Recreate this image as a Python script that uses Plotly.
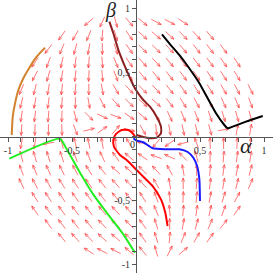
import math
import plotly.graph_objects as go

# ---- tick labels ----
x_tick_vals = [-1, -0.5, 0.5, 1]
x_tick_text = ["-1", "-0,5", "0,5", "1"]
y_tick_vals = [-1, -0.5, 0.5, 1]
y_tick_text = ["-1", "-0,5", "0,5", "1"]

# ---- direction field: arrow angles (degrees), one list per grid row (top to bottom), left to right ----
ang_r18 = [-140, -115, -75, -50, -40, -28, -27, -32]
ang_r17 = [-125, -120, -112, -95, -73, -55, -42, -40, -42, -46, -48, -50]
ang_r16 = [-128, -112, -105, -100, -90, -73, -55, -45, -45, -47, -50, -52, -53, -54]
ang_r15 = [-124, -110, -102, -98, -95, -85, -68, -55, -48, -47, -50, -52, -53, -54, -55, -56]
ang_r14 = [-118, -106, -100, -96, -93, -85, -70, -58, -50, -50, -52, -54, -55, -56, -57, -58]
ang_r13 = [-112, -104, -100, -97, -95, -90, -80, -60, -47, -45, -48, -52, -55, -57, -58, -60, -62, -64]
ang_r12 = [-104, -100, -98, -95, -90, -80, -62, -48, -45, -42, -42, -52, -58, -62, -64, -66, -68, -70]
ang_r11 = [-99, -97, -95, -92, -75, -45, -25, -20, -35, -40, -55, -65, -68, -70, -72, -73, -74, -75]
ang_r10 = [-93, -92, -90, -88, -70, 15, 35, 50, -15, -60, -85, -80, -78, -76, -75, 10, 80, 80]
ang_r9 = [260, 260, 190, 105, 104, 102, 100, 95, 120, 165, 230, 215, 195, 110, 92, 90, 88, 87]
ang_r8 = [105, 106, 107, 108, 110, 112, 115, 125, 140, 145, 160, 155, 135, 105, 88, 85, 83, 81]
ang_r7 = [110, 112, 114, 116, 118, 122, 128, 138, 138, 135, 132, 118, 100, 90, 85, 82, 80, 76]
ang_r6 = [116, 118, 120, 122, 123, 125, 128, 132, 135, 133, 120, 100, 90, 85, 83, 80, 76, 68]
ang_r5 = [122, 123, 124, 125, 126, 128, 130, 130, 122, 110, 95, 87, 84, 80, 74, 62]
ang_r4 = [124, 125, 126, 127, 128, 130, 133, 132, 125, 112, 95, 85, 82, 78, 70, 56]
ang_r3 = [126, 127, 128, 130, 133, 135, 135, 125, 107, 90, 80, 75, 68, 52]
ang_r2 = [130, 132, 134, 138, 140, 138, 125, 107, 85, 68, 60, 55]
ang_r1 = [148, 153, 152, 140, 130, 105, 65, 40]
field_rows = {18: ang_r18, 17: ang_r17, 16: ang_r16, 15: ang_r15, 14: ang_r14, 13: ang_r13,
              12: ang_r12, 11: ang_r11, 10: ang_r10, 9: ang_r9, 8: ang_r8, 7: ang_r7,
              6: ang_r6, 5: ang_r5, 4: ang_r4, 3: ang_r3, 2: ang_r2, 1: ang_r1}

# ---- trajectories ----
black_a = [0.203, 0.260, 0.338, 0.416, 0.495, 0.560, 0.625, 0.690, 0.716, 0.755, 0.859, 0.990]
black_b = [0.798, 0.728, 0.637, 0.533, 0.416, 0.298, 0.181, 0.090, 0.064, 0.077, 0.116, 0.160]
orange_a = [-0.711, -0.776, -0.828, -0.880, -0.919, -0.945, -0.963, -0.971]
orange_b = [0.694, 0.623, 0.545, 0.455, 0.363, 0.259, 0.155, 0.012]
green_a = [-0.990, -0.594, -0.541, -0.4375, -0.334, -0.229, -0.099, -0.008]
green_b = [-0.173, -0.017, -0.100, -0.283, -0.452, -0.595, -0.764, -0.908]
blue_a = [0.5, 0.495, 0.477, 0.448, 0.404, 0.339, 0.234, 0.130, 0.057, 0.0, -0.02]
blue_b = [-0.504, -0.334, -0.230, -0.166, -0.121, -0.100, -0.100, -0.092, -0.045, -0.03, -0.014]
red_a = [0.247, 0.229, 0.195, 0.130, 0.065, 0.013, -0.073, -0.125, -0.172, -0.177, -0.156, -0.112, -0.060, -0.026, -0.008]
red_b = [-0.699, -0.595, -0.491, -0.387, -0.322, -0.270, -0.184, -0.145, -0.080, -0.027, 0.020, 0.051, 0.051, 0.025, 0.0]
brown_a = [-0.208, -0.177, -0.138, -0.086, -0.034, 0.0, 0.057, 0.109, 0.161, 0.195, 0.195, 0.161, 0.109, 0.044, 0.005]
brown_b = [0.897, 0.806, 0.676, 0.545, 0.428, 0.363, 0.285, 0.233, 0.155, 0.077, 0.025, -0.009, -0.014, 0.0, 0.012]

# ---- build the arrow field on a 20x20 grid clipped to the unit disc ----
n = 20
g = [-1 + 2 * k / (n - 1) for k in range(n)]
L = 0.088
HEAD = 0.03
HANG = math.radians(22)
ax_, ay_ = [], []
for j, row in field_rows.items():
    y = g[j]
    ks = [k for k in range(n) if g[k] ** 2 + y ** 2 <= 1 + 1e-9]
    for k, a in zip(ks, row):
        x = g[k]
        t = math.radians(a)
        c, s = math.cos(t), math.sin(t)
        x0, y0 = x - c * L / 2, y - s * L / 2
        x1, y1 = x + c * L / 2, y + s * L / 2
        ax_ += [x0, x1, None]
        ay_ += [y0, y1, None]
        for sgn in (1, -1):
            th = t + math.pi + sgn * HANG
            ax_ += [x1, x1 + HEAD * math.cos(th), None]
            ay_ += [y1, y1 + HEAD * math.sin(th), None]

fig = go.Figure()
fig.add_trace(go.Scatter(x=ax_, y=ay_, mode="lines",
                         line=dict(color="rgba(255,60,60,0.7)", width=1),
                         hoverinfo="skip"))

traj = [
    (black_a, black_b, "#000000"),
    (orange_a, orange_b, "#d2822d"),
    (green_a, green_b, "#22ee22"),
    (blue_a, blue_b, "#1a1aff"),
    (red_a, red_b, "#ff0000"),
    (brown_a, brown_b, "#8b1f1f"),
]
for xa, yb, col in traj:
    fig.add_trace(go.Scatter(x=xa, y=yb, mode="lines",
                             line=dict(color=col, width=2, shape="spline", smoothing=0.5),
                             hoverinfo="skip"))

minor_vals = [round(-1 + 0.1 * i, 1) for i in range(21)]
XR = [-1.0625, 1.0703]
YR = [-1.066, 1.066]
axis_common = dict(showgrid=False, zeroline=False, showline=True, linecolor="#555555",
                   linewidth=1, ticks="outside", ticklen=4, tickcolor="#555555",
                   tickfont=dict(family="Liberation Serif", size=10, color="#333333"),
                   minor=dict(tickvals=minor_vals, ticks="outside", ticklen=4, tickcolor="#555555"),
                   fixedrange=True)
fig.update_layout(
    width=273, height=273,
    margin=dict(l=0, r=0, t=0, b=0),
    paper_bgcolor="white", plot_bgcolor="white",
    showlegend=False, hovermode=False,
    xaxis=dict(range=XR, tickvals=x_tick_vals, ticktext=x_tick_text,
               anchor="free", position=(0 - YR[0]) / (YR[1] - YR[0]), side="bottom",
               **axis_common),
    yaxis=dict(range=YR, tickvals=y_tick_vals, ticktext=y_tick_text,
               anchor="free", position=(0 - XR[0]) / (XR[1] - XR[0]), side="left",
               **axis_common),
    annotations=[
        dict(x=0.863, y=-0.074, text="<i>α</i>", showarrow=False, xref="x", yref="y",
             font=dict(family="Liberation Serif", size=22, color="#222222")),
        dict(x=-0.199, y=0.985, text="<i>β</i>", showarrow=False, xref="x", yref="y",
             font=dict(family="Liberation Serif", size=20, color="#222222")),
        dict(x=-0.027, y=-0.066, text="0", showarrow=False, xref="x", yref="y",
             font=dict(family="Liberation Serif", size=10, color="#333333")),
    ],
)
fig.write_html("out.html", config={"displayModeBar": False},
               post_script="document.body.style.margin='0px';document.body.style.overflow='hidden';")
